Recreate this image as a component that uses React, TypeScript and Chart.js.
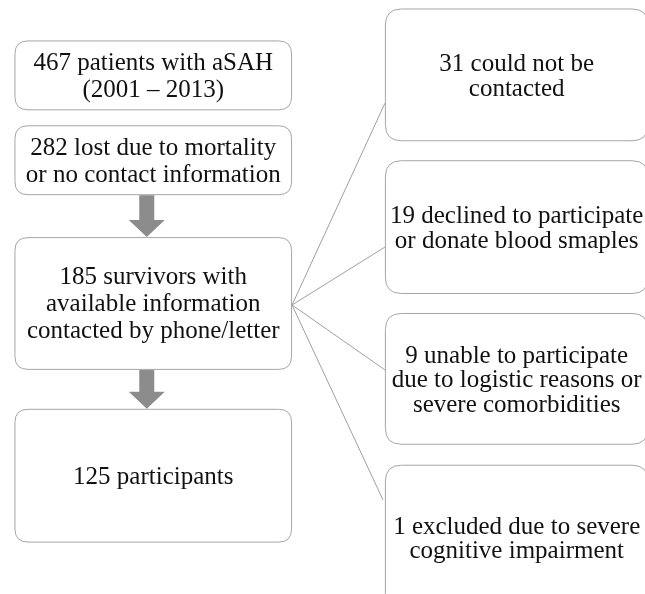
import React, { useEffect, useRef } from "react";
import { Chart, registerables } from "chart.js";

Chart.register(...registerables);

// ---- content ----
const mainCounts = [467, 282, 185, 125];
const mainLabels: string[][] = [
  ["467 patients with aSAH", "(2001 – 2013)"],
  ["282 lost due to mortality", "or no contact information"],
  ["185 survivors with", "available information", "contacted by phone/letter"],
  ["125 participants"],
];
const excludedCounts = [31, 19, 9, 1];
const excludedLabels: string[][] = [
  ["31 could not be", "contacted"],
  ["19 declined to participate", "or donate blood smaples"],
  ["9 unable to participate", "due to logistic reasons or", "severe comorbidities"],
  ["1 excluded due to severe", "cognitive impairment"],
];

// ---- layout (in scale units, x: 0..645, y: 0..594) ----
const mainX = [14, 291];
const mainY: [number, number][] = [
  [40, 109],
  [125, 194],
  [237, 369],
  [409, 542],
];
const sideX = [385, 648];
const sideY: [number, number][] = [
  [8, 140],
  [160, 293],
  [313, 444],
  [465, 610],
];
const hubPoint = { x: 292, y: 305 };
const connectorEnds = [
  { x: 385, y: 103 },
  { x: 385, y: 247 },
  { x: 385, y: 370 },
  { x: 383, y: 500 },
];
const arrows: [number, number][] = [
  [1, 2],
  [2, 3],
];

const BOX_STROKE = "#a6a6a6";
const ARROW_FILL = "#8c8c8c";
const LINE_COLOR = "#a0a0a0";
const FONT_FAMILY = '"Times New Roman", Times, "Liberation Serif", Tinos, "DejaVu Serif", serif';
const FONT = `25px ${FONT_FAMILY}`;

function roundRect(ctx: CanvasRenderingContext2D, x: number, y: number, w: number, h: number, r: number) {
  ctx.beginPath();
  ctx.moveTo(x + r, y);
  ctx.lineTo(x + w - r, y);
  ctx.quadraticCurveTo(x + w, y, x + w, y + r);
  ctx.lineTo(x + w, y + h - r);
  ctx.quadraticCurveTo(x + w, y + h, x + w - r, y + h);
  ctx.lineTo(x + r, y + h);
  ctx.quadraticCurveTo(x, y + h, x, y + h - r);
  ctx.lineTo(x, y + r);
  ctx.quadraticCurveTo(x, y, x + r, y);
  ctx.closePath();
}

const flowPlugin = {
  id: "flowchart",
  beforeDatasetsDraw(chart: any) {
    const ctx: CanvasRenderingContext2D = chart.ctx;
    const sx = chart.scales.x;
    const sy = chart.scales.y;
    const px = (v: number) => sx.getPixelForValue(v);
    const py = (v: number) => sy.getPixelForValue(v);

    ctx.save();
    ctx.fillStyle = "#ffffff";
    ctx.fillRect(0, 0, chart.width, chart.height);

    const drawBox = (
      x0: number, x1: number, y0: number, y1: number,
      lines: string[], r: number, lineH: number, offset: number
    ) => {
      const X0 = px(x0) + 0.5, X1 = px(x1) + 0.5, Y0 = py(y0) + 0.5, Y1 = py(y1) + 0.5;
      roundRect(ctx, X0, Y0, X1 - X0, Y1 - Y0, r);
      ctx.fillStyle = "#ffffff";
      ctx.fill();
      ctx.strokeStyle = BOX_STROKE;
      ctx.lineWidth = 1;
      ctx.stroke();
      ctx.fillStyle = "#111111";
      ctx.font = FONT;
      ctx.textAlign = "center";
      ctx.textBaseline = "alphabetic";
      const cx = (X0 + X1) / 2;
      const cy = (Y0 + Y1) / 2;
      const n = lines.length;
      lines.forEach((t, i) => {
        const baseline = cy + (i - (n - 1) / 2) * lineH + offset;
        ctx.fillText(t, cx, baseline);
      });
    };

    mainCounts.forEach((_, i) => {
      drawBox(mainX[0], mainX[1], mainY[i][0], mainY[i][1], mainLabels[i], 13, 27, 8);
    });
    excludedCounts.forEach((_, i) => {
      drawBox(sideX[0], sideX[1], sideY[i][0], sideY[i][1], excludedLabels[i], 16, 24.5, 8.5);
    });

    const cxv = (mainX[0] + mainX[1]) / 2 - 6;
    arrows.forEach(([a, b]) => {
      const top = py(mainY[a][1]) + 1;
      const tip = py(mainY[b][0]);
      const headH = 17;
      const cx = px(cxv);
      ctx.fillStyle = ARROW_FILL;
      ctx.beginPath();
      ctx.moveTo(cx - 7.5, top);
      ctx.lineTo(cx + 7.5, top);
      ctx.lineTo(cx + 7.5, tip - headH);
      ctx.lineTo(cx + 18, tip - headH);
      ctx.lineTo(cx, tip);
      ctx.lineTo(cx - 18, tip - headH);
      ctx.lineTo(cx - 7.5, tip - headH);
      ctx.closePath();
      ctx.fill();
    });
    ctx.restore();
  },
};

export default function App() {
  const ref = useRef<HTMLCanvasElement | null>(null);
  useEffect(() => {
    document.body.style.margin = "0";
    if (!ref.current) return;
    const datasets = connectorEnds.map((end, i) => ({
      label: `excluded ${excludedCounts[i]}`,
      data: [
        { x: hubPoint.x, y: hubPoint.y },
        { x: end.x, y: end.y },
      ],
      showLine: true,
      borderColor: LINE_COLOR,
      borderWidth: 1,
      pointRadius: 0,
      fill: false,
    }));
    const chart = new Chart(ref.current, {
      type: "scatter",
      data: { datasets },
      options: {
        animation: false,
        responsive: false,
        layout: { padding: 0 },
        plugins: { legend: { display: false }, tooltip: { enabled: false } },
        scales: {
          x: { type: "linear", min: 0, max: 645, display: false },
          y: { type: "linear", min: 0, max: 594, reverse: true, display: false },
        },
      },
      plugins: [flowPlugin],
    });
    let alive = true;
    const fonts: any = (document as any).fonts;
    if (fonts && fonts.ready) {
      fonts.ready.then(() => { if (alive) chart.update("none"); });
    }
    return () => {
      alive = false;
      chart.destroy();
    };
  }, []);
  return <canvas ref={ref} width={645} height={594} style={{ display: "block", fontFamily: FONT_FAMILY }} />;
}
